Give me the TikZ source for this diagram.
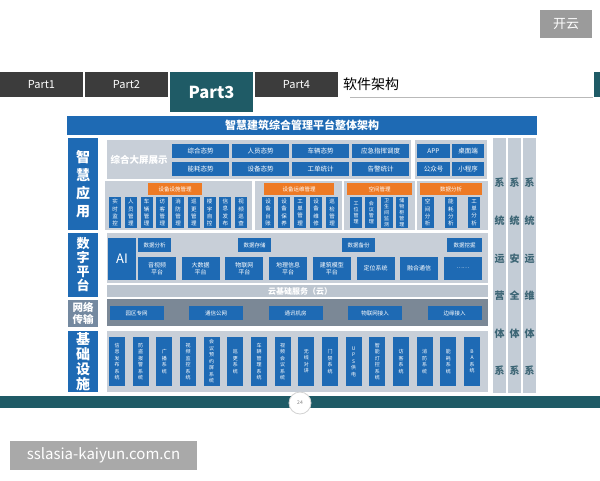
\documentclass[tikz,border=0pt]{standalone}
\usepackage{fontspec}
\setmainfont{Noto Sans CJK SC}
\usepackage{tikz}
\definecolor{tabgray}{HTML}{3C3C3C}
\definecolor{partteal}{HTML}{1F5B66}
\definecolor{archblue}{HTML}{1E6AB4}
\definecolor{panelgray}{HTML}{C8CFD8}
\definecolor{cloudgray}{HTML}{BCC5CF}
\definecolor{netgray}{HTML}{7B8896}
\definecolor{netlabel}{HTML}{7489A0}
\definecolor{hdrorange}{HTML}{EE7A24}
\definecolor{sidegray}{HTML}{C3CCD6}
\definecolor{sidetext}{HTML}{3B6474}
\definecolor{badgegray}{HTML}{9B9B9B}
\definecolor{wmgray}{HTML}{A9A9A9}

\begin{document}
\begin{tikzpicture}[x=1pt, y=-1pt,
  blk/.style={fill=archblue, text=white, inner sep=0pt, align=center, font=\fontsize{6.5}{7.5}\selectfont},
  vblk/.style={blk, minimum width=12pt, minimum height=31pt, font=\fontsize{5.5}{7.2}\selectfont},
  bblk/.style={blk, minimum width=16pt, minimum height=49pt, font=\fontsize{5}{6.5}\selectfont},
  hdr/.style={fill=hdrorange, text=white, inner sep=0pt, minimum height=12pt, font=\fontsize{5.5}{6}\selectfont},
  side/.style={fill=archblue, text=white, inner sep=0pt, minimum width=30pt, align=center},
  tab/.style={fill=tabgray, text=white, inner sep=0pt, minimum width=83pt, minimum height=25pt, font=\fontsize{11}{12}\selectfont},
  coltxt/.style={text=sidetext, inner sep=0pt, align=center, font=\fontsize{10}{37.6}\selectfont\bfseries}]
  \useasboundingbox (0,0) rectangle (600,480);
  \fill[white] (0,0) rectangle (600,480);

  % intestazione con le schede
  \node[fill=badgegray, text=white, minimum width=52pt, minimum height=28pt, inner sep=0pt, font=\fontsize{13}{14}\selectfont] (badge) at (566,24) {开云};
  \node[tab] (p1) at (41.5,84.5) {Part1};
  \node[tab] (p2) at (126.5,84.5) {Part2};
  \node[tab, fill=partteal, minimum height=40pt, font=\fontsize{16.5}{18}\selectfont\bfseries] (p3) at (211.5,92) {Part3};
  \node[tab] (p4) at (296.5,84.5) {Part4};
  \node[anchor=west, inner sep=0pt, font=\fontsize{14}{15}\selectfont] (sec) at (343,84) {软件架构};
  \draw[line width=1.5pt, gray!55] (350,97.5) -- (593,97.5);
  \fill[partteal] (594,72) rectangle (600,97);

  % titolo
  \node[fill=archblue, text=white, minimum width=470pt, minimum height=19pt, inner sep=0pt, font=\fontsize{11}{12}\selectfont\bfseries] (title) at (302,125.5) {智慧建筑综合管理平台整体架构};

  % etichette a sinistra
  \node[side, minimum height=92pt, font=\fontsize{14}{18}\selectfont\bfseries] (app) at (83,184) {智\\慧\\应\\用};
  \node[side, minimum height=64pt, font=\fontsize{13}{14}\selectfont\bfseries] (dig) at (83,265) {数\\字\\平\\台};
  \node[side, fill=netlabel, minimum height=27pt, font=\fontsize{10.5}{11.5}\selectfont\bfseries] (net) at (83,313.5) {网络\\传输};
  \node[side, minimum height=61pt, font=\fontsize{14}{15}\selectfont\bfseries] (base) at (83,361.5) {基\\础\\设\\施};

  % pannelli grigi
  \fill[panelgray] (107,140) rectangle (411,179);
  \fill[panelgray] (415,140) rectangle (487,179);
  \fill[panelgray] (105,181) rectangle (252,230);
  \fill[panelgray] (255,181) rectangle (342,230);
  \fill[panelgray] (344,181) rectangle (415,230);
  \fill[panelgray] (417,181) rectangle (488,230);
  \fill[panelgray] (107,233) rectangle (488,283);
  \fill[cloudgray] (107,285) rectangle (488,297);
  \fill[netgray] (107,299) rectangle (488,326);
  \fill[panelgray] (107,331) rectangle (488,392);

  % schermo grande
  \node[text=white, inner sep=0pt, font=\fontsize{9.5}{10}\selectfont\bfseries] (scr) at (139,160) {综合大屏展示};
  \foreach \lab [count=\i] in {综合态势, 人员态势, 车辆态势, 应急指挥调度}
    \node[blk, minimum width=57pt, minimum height=14pt] (sa\i) at ({140.5+60*\i},151) {\lab};
  \foreach \lab [count=\i] in {能耗态势, 设备态势, 工单统计, 告警统计}
    \node[blk, minimum width=57pt, minimum height=14pt] (sb\i) at ({140.5+60*\i},169) {\lab};
  \node[blk, minimum width=33pt, minimum height=14pt] (appc) at (433.5,151) {APP};
  \node[blk, minimum width=32pt, minimum height=14pt] (desk) at (468,151) {桌面端};
  \node[blk, minimum width=33pt, minimum height=14pt] (pub) at (433.5,169) {公众号};
  \node[blk, minimum width=32pt, minimum height=14pt] (mini) at (468,169) {小程序};

  % gruppi di gestione
  \node[hdr, minimum width=54pt] (h1) at (175,189) {设备设施管理};
  \foreach \lab [count=\i] in {{实\\时\\监\\控}, {人\\员\\管\\理}, {车\\辆\\管\\理}, {访\\客\\管\\理}, {消\\防\\管\\理}, {巡\\更\\管\\理}, {楼\\宇\\自\\控}, {信\\息\\发\\布}, {视\\频\\巡\\查}}
    \node[vblk] (ga\i) at ({115+15.75*(\i-1)},212.5) {\lab};
  \node[hdr, minimum width=70pt] (h2) at (299,189) {设备运维管理};
  \foreach \lab [count=\i] in {{设\\备\\台\\账}, {设\\备\\保\\养}, {工\\单\\管\\理}, {设\\备\\维\\修}, {巡\\检\\管\\理}}
    \node[vblk] (gb\i) at ({268+16*(\i-1)},212.5) {\lab};
  \node[hdr, minimum width=65pt] (h3) at (379.5,189) {空间管理};
  \foreach \lab [count=\i] in {{工\\位\\管\\理}, {会\\议\\管\\理}, {卫\\生\\间\\监\\测}, {储\\物\\柜\\管\\理}}
    \node[vblk, font=\fontsize{5}{6}\selectfont] (gc\i) at ({356+15.33*(\i-1)},212.5) {\lab};
  \node[hdr, minimum width=62pt] (h4) at (451,189) {数据分析};
  \foreach \lab [count=\i] in {{空\\间\\分\\析}, {能\\耗\\分\\析}, {工\\单\\分\\析}}
    \node[vblk] (gd\i) at ({427.5+23.25*(\i-1)},212.5) {\lab};

  % piattaforma digitale
  \node[blk, minimum width=28pt, minimum height=42pt, font=\fontsize{13}{14}\selectfont] (ai) at (122,259) {AI};
  \node[blk, minimum width=33pt, minimum height=14pt, font=\fontsize{5.5}{6}\selectfont] (da) at (154.5,245) {数据分析};
  \node[blk, minimum width=33pt, minimum height=14pt, font=\fontsize{5.5}{6}\selectfont] (ds) at (254.5,245) {数据存储};
  \node[blk, minimum width=33pt, minimum height=14pt, font=\fontsize{5.5}{6}\selectfont] (db) at (358.5,245) {数据备份};
  \node[blk, minimum width=35pt, minimum height=14pt, font=\fontsize{5.5}{6}\selectfont] (dm) at (464.5,245) {数据挖掘};
  \foreach \lab [count=\i] in {{音视频\\平台}, {大数据\\平台}, {物联网\\平台}, {地理信息\\平台}, {建筑模型\\平台}, 定位系统, 融合通信, ……}
    \node[blk, minimum width=38pt, minimum height=23pt, font=\fontsize{6}{7}\selectfont] (pf\i) at ({157+43.7*(\i-1)},268.5) {\lab};
  \node[text=white, inner sep=0pt, font=\fontsize{8}{9}\selectfont\bfseries] (cloud) at (300,291) {云基础服务（云）};

  % rete
  \foreach \lab [count=\i] in {园区专网, 通信公网, 通讯机房, 物联网接入, 边缘接入}
    \node[blk, minimum width=54pt, minimum height=14pt, font=\fontsize{5.5}{6}\selectfont] (nw\i) at ({136.5+79.5*(\i-1)},313) {\lab};

  % infrastruttura di base
  \foreach \lab [count=\i] in {{信\\息\\发\\布\\系\\统}, {防\\盗\\报\\警\\系\\统}, {广\\播\\系\\统}, {视\\频\\监\\控\\系\\统}, {会\\议\\预\\约\\屏\\系\\统}, {巡\\更\\系\\统}, {车\\辆\\管\\理\\系\\统}, {视\\频\\会\\议\\系\\统}, {无\\线\\对\\讲}, {门\\禁\\系\\统}, {U\\P\\S\\供\\电}, {智\\能\\灯\\控\\系\\统}, {访\\客\\系\\统}, {消\\防\\系\\统}, {能\\耗\\系\\统}, {B\\A\\系\\统}}
    \node[bblk] (bs\i) at ({117+23.67*(\i-1)},361.5) {\lab};

  % colonne laterali
  \foreach \x/\lab [count=\i] in {499.5/{系\\统\\运\\营\\体\\系}, 514.5/{系\\统\\安\\全\\体\\系}, 529.5/{系\\统\\运\\维\\体\\系}} {
    \node[fill=sidegray, minimum width=13pt, minimum height=255pt, inner sep=0pt] (col\i) at (\x,265.5) {};
    \node[coltxt] (ct\i) at (\x,277) {\lab};
  }

  % barra in basso e filigrana
  \fill[partteal] (0,396) rectangle (600,408);
  \node[circle, fill=white, draw=gray!35, line width=0.8pt, minimum size=22pt, inner sep=0pt, text=gray, font=\fontsize{5}{6}\selectfont] (page) at (300,403) {24};
  \node[fill=wmgray, text=white, minimum width=187pt, minimum height=29pt, inner sep=0pt, font=\fontsize{15}{16}\selectfont] (wm) at (103.5,455.5) {sslasia-kaiyun.com.cn};
\end{tikzpicture}
\end{document}
